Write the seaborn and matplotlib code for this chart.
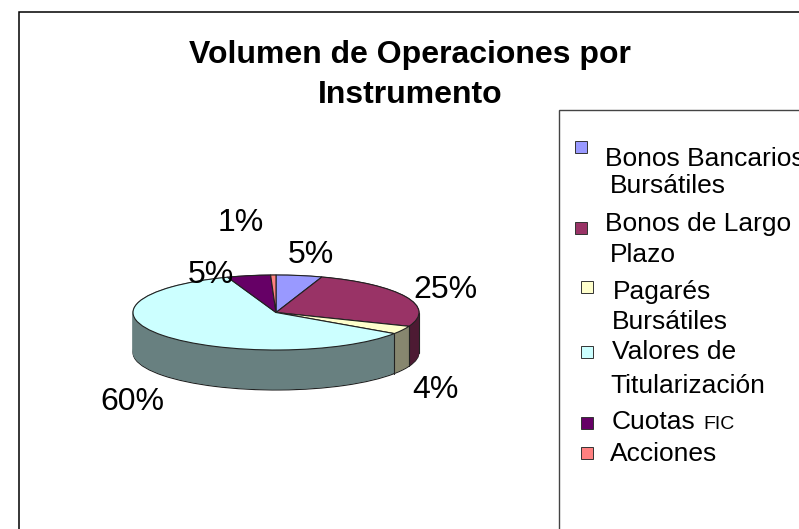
import matplotlib
matplotlib.use('Agg')
import matplotlib.pyplot as plt
import seaborn as sns
import numpy as np
from matplotlib.patches import Rectangle

W, H = 799, 529

instrumentos = ['Bonos Bancarios', 'Bonos de Largo', 'Pagarés', 'Valores de', 'Cuotas', 'Acciones']
segunda_linea = ['Bursátiles', 'Plazo', 'Bursátiles', 'Titularización', '', '']
volumen = [5.2, 25.8, 3.5, 60.0, 4.9, 0.6]
etiquetas = ['5%', '25%', '4%', '60%', '5%', '1%']
colores = ['#9999FF', '#993366', '#FFFFCC', '#CCFFFF', '#660066', '#FF8080']
oscuros = ['#4D4D80', '#4D1A33', '#87876F', '#688080', '#330033', '#804040']

sns.set_theme(style='white')
plt.rcParams['font.family'] = ['Liberation Sans', 'DejaVu Sans']

fig = plt.figure(figsize=(W / 100, H / 100), dpi=100, facecolor='white')


def px(x, y):
    # pixel position from the top left corner -> figure fraction
    return x / W, 1 - y / H


def put(x, y, s, size, **kw):
    fig.text(*px(x, y), s, fontsize=size, color='black', va='baseline', **kw)


# outer frame and legend box, both run off the picture
fig.add_artist(Rectangle(px(19, 560), 1100 / W, 548 / H, fill=False, ec='black', lw=1.1,
                         transform=fig.transFigure))
fig.add_artist(Rectangle(px(559, 560), 300 / W, 450 / H, fill=False, ec='#444444', lw=1.0,
                         transform=fig.transFigure))

# 3D look: squashed pie on an axes, dark copies below for the wall
ax = fig.add_axes([133 / W, 1 - 390 / H, 286 / W, 115 / H])
b = 37.5 / 143
depth = 40 / 143 / b

for i in range(41):
    wedges, _ = ax.pie(volumen, colors=oscuros, startangle=90, counterclock=False,
                       center=(0, -depth * (1 - i / 40)), frame=True)
    for w in wedges:
        if i == 0:
            w.set_edgecolor('#222222')
            w.set_linewidth(0.8)
        else:
            w.set_edgecolor(w.get_facecolor())
            w.set_linewidth(0.6)

# wall edges where the front slices meet, and at both ends of the ellipse
bordes = np.cumsum(volumen) / np.sum(volumen)
for ang in list(90 - 360 * bordes) + [0, 180]:
    x, y = np.cos(np.radians(ang)), np.sin(np.radians(ang))
    if y <= 0:
        ax.plot([x, x], [y, y - depth], color='#222222', lw=0.8)

ax.pie(volumen, colors=colores, startangle=90, counterclock=False, frame=True,
       wedgeprops={'linewidth': 0.8, 'edgecolor': '#222222'})
ax.set_aspect('auto')
ax.set_xlim(-1.0, 1.0)
ax.set_ylim(-1.0 - depth, 1.0)
ax.axis('off')
for p in ax.patches + ax.lines:
    p.set_clip_on(False)

# title
put(410, 63, 'Volumen de Operaciones por', 23, ha='center', fontweight='bold')
put(410, 103, 'Instrumento', 23, ha='center', fontweight='bold')

# percent labels
label_pos = [(288, 263), (413, 298), (412, 398), (100, 410), (188, 283), (218, 231)]
for (x, y), s in zip(label_pos, etiquetas):
    put(x, y, s, 23, ha='left')

# legend
box_pos = [(581, 147), (581, 228), (587, 287), (587, 352), (587, 423), (587, 453)]
line1_pos = [(605, 166), (605, 231), (613, 299), (612, 359), (612, 429), (610, 461)]
line2_pos = [(610, 193), (610, 262), (612, 329), (610, 393), None, None]
for i, nombre in enumerate(instrumentos):
    x, y = box_pos[i]
    fig.add_artist(Rectangle(px(x - 6, y + 6), 12 / W, 12 / H, fc=colores[i], ec='#333333', lw=0.7,
                             transform=fig.transFigure))
    put(*line1_pos[i], nombre, 19)
    if line2_pos[i]:
        put(*line2_pos[i], segunda_linea[i], 19)
put(703, 429, 'FIC', 14)

fig.savefig('out.png', dpi=100)
plt.close(fig)
